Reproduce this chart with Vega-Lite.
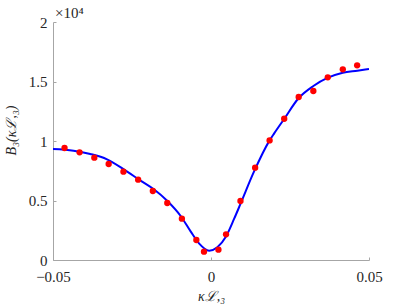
{
  "$schema": "https://vega.github.io/schema/vega-lite/v6.json",
  "autosize": {"type": "none"},
  "width": 316,
  "height": 238,
  "padding": {"left": 53, "top": 22, "right": 38, "bottom": 45},
  "background": "white",
  "config": {
    "view": {"stroke": null},
    "font": "Liberation Serif"
  },
  "datasets": {
    "curve": [
      {"k": -0.05, "b": 0.933},
      {"k": -0.0435, "b": 0.919},
      {"k": -0.0382, "b": 0.891},
      {"k": -0.0329, "b": 0.846},
      {"k": -0.0276, "b": 0.762},
      {"k": -0.0223, "b": 0.667},
      {"k": -0.0181, "b": 0.594},
      {"k": -0.0138, "b": 0.496},
      {"k": -0.0096, "b": 0.37},
      {"k": -0.0064, "b": 0.238},
      {"k": -0.0038, "b": 0.14},
      {"k": -0.0006, "b": 0.078},
      {"k": 0.002, "b": 0.107},
      {"k": 0.0047, "b": 0.196},
      {"k": 0.0073, "b": 0.345},
      {"k": 0.0094, "b": 0.476},
      {"k": 0.0136, "b": 0.742},
      {"k": 0.0185, "b": 1.003},
      {"k": 0.02, "b": 1.064},
      {"k": 0.0232, "b": 1.187},
      {"k": 0.0277, "b": 1.359},
      {"k": 0.0324, "b": 1.462},
      {"k": 0.037, "b": 1.532},
      {"k": 0.0417, "b": 1.574},
      {"k": 0.0463, "b": 1.591},
      {"k": 0.05, "b": 1.605}
    ],
    "dots": [
      {"k": -0.04635, "b": 0.941},
      {"k": -0.04159, "b": 0.905},
      {"k": -0.03692, "b": 0.86},
      {"k": -0.03238, "b": 0.807},
      {"k": -0.02771, "b": 0.742},
      {"k": -0.02305, "b": 0.675},
      {"k": -0.01841, "b": 0.58},
      {"k": -0.01384, "b": 0.479},
      {"k": -0.00921, "b": 0.347},
      {"k": -0.00463, "b": 0.168},
      {"k": -0.00222, "b": 0.07},
      {"k": 0.00235, "b": 0.087},
      {"k": 0.00476, "b": 0.216},
      {"k": 0.00933, "b": 0.496},
      {"k": 0.01397, "b": 0.776},
      {"k": 0.01854, "b": 1.005},
      {"k": 0.02317, "b": 1.187},
      {"k": 0.02775, "b": 1.37},
      {"k": 0.03238, "b": 1.42},
      {"k": 0.03695, "b": 1.535},
      {"k": 0.04171, "b": 1.602},
      {"k": 0.04625, "b": 1.636}
    ],
    "exponent": [
      {"k": -0.05, "b": 2, "label": "×10⁴"}
    ]
  },
  "encoding": {
    "x": {
      "field": "k",
      "type": "quantitative",
      "scale": {"domain": [-0.05, 0.05], "nice": false, "zero": false},
      "axis": {
        "values": [-0.05, 0, 0.05],
        "format": "~g",
        "title": "κℒ,₃",
        "titleFont": "Liberation Serif",
        "titleFontStyle": "italic",
        "titleFontWeight": "normal",
        "titleFontSize": 14,
        "titleColor": "#262626",
        "titlePadding": 5,
        "labelFont": "Liberation Serif",
        "labelFontSize": 15,
        "labelColor": "#262626",
        "labelPadding": 12,
        "domainColor": "#a6a6a6",
        "tickColor": "#a6a6a6",
        "tickSize": -3,
        "grid": false,
        "labelFlush": false
      }
    },
    "y": {
      "field": "b",
      "type": "quantitative",
      "scale": {"domain": [0, 2], "nice": false},
      "axis": {
        "values": [0, 0.5, 1, 1.5, 2],
        "format": "~g",
        "title": "B₃(κℒ,₃)",
        "titleFont": "Liberation Serif",
        "titleFontStyle": "italic",
        "titleFontWeight": "normal",
        "titleFontSize": 14,
        "titleColor": "#262626",
        "titlePadding": 10,
        "titleY": 108,
        "labelFont": "Liberation Serif",
        "labelFontSize": 15,
        "labelColor": "#262626",
        "labelPadding": 9,
        "domainColor": "#a6a6a6",
        "tickColor": "#a6a6a6",
        "tickSize": -3,
        "grid": false,
        "labelFlush": false
      }
    }
  },
  "layer": [
    {
      "data": {"name": "curve"},
      "mark": {"type": "line", "color": "#0000ff", "strokeWidth": 2, "interpolate": "monotone", "clip": true}
    },
    {
      "data": {"name": "dots"},
      "mark": {"type": "circle", "color": "#ff0000", "size": 40, "opacity": 1}
    },
    {
      "data": {"name": "exponent"},
      "mark": {"type": "text", "align": "left", "baseline": "alphabetic", "dx": 2, "dy": -4, "font": "Liberation Serif", "fontSize": 15, "color": "#262626"},
      "encoding": {"text": {"field": "label"}}
    }
  ]
}
